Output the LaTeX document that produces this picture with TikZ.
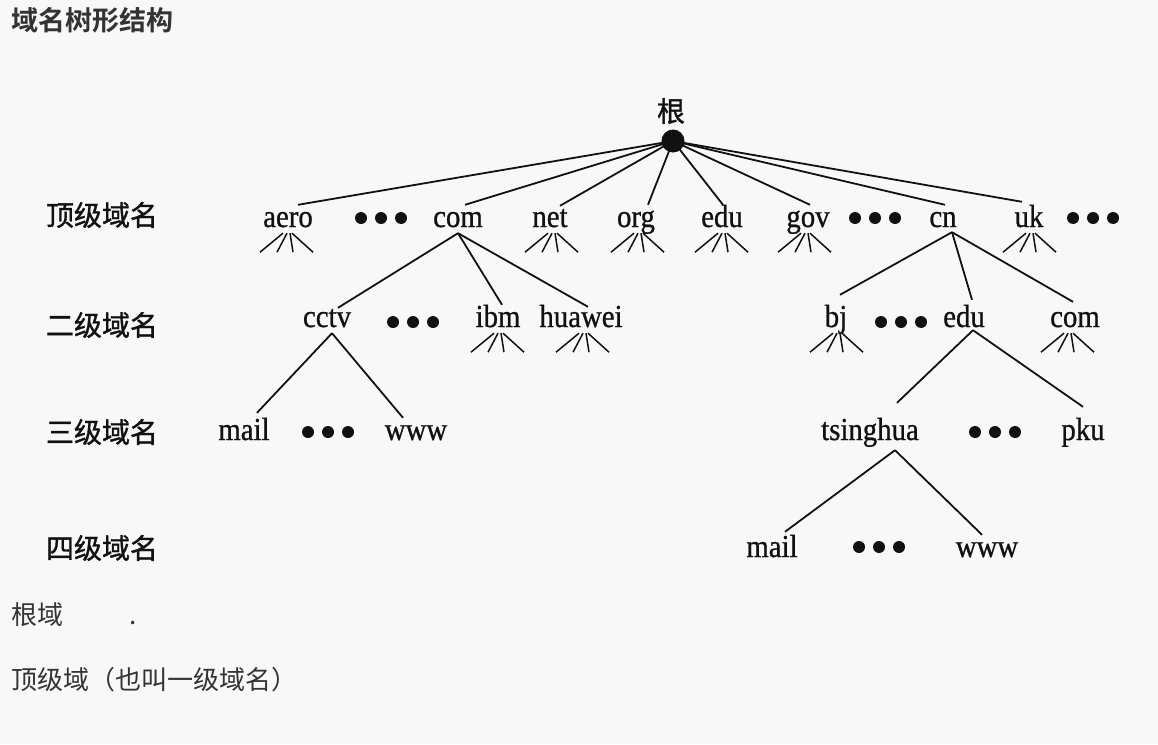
\documentclass[tikz,border=0pt]{standalone}
\usepackage{fontspec}
\newfontfamily\cjk[BoldFont={Noto Sans CJK SC Bold}]{Noto Sans CJK SC}
\newfontfamily\cjkrow[FakeBold=1.2]{Noto Sans CJK SC}
\newfontfamily\treefont[FakeStretch=0.9,FakeBold=0.8]{Liberation Serif}
\definecolor{bgc}{HTML}{F8F8F8}
\definecolor{txt}{HTML}{333333}
\definecolor{ink}{HTML}{111111}
\begin{document}
\begin{tikzpicture}[x=1pt,y=-1pt,
  lbl/.style={font=\treefont\fontsize{32}{36}\selectfont, inner sep=0pt, text height=22pt, text depth=6pt, anchor=base, text=ink},
  rowlbl/.style={font=\cjkrow\fontsize{28}{30}\selectfont, inner sep=0pt, anchor=center, text=ink},
  note/.style={font=\cjk\fontsize{26}{28}\selectfont, inner sep=0pt, anchor=west, text=txt},
  edge/.style={draw=ink, line width=1.8pt},
  ell/.pic={\foreach \i in {-20,0,20} \fill[ink] (\i,0) circle (6);},
  fan/.pic={\draw[edge, line width=1.5pt] (-4,0)--(-27,19) (0,0)--(-10,19) (3,0)--(6,19) (5,0)--(26,19);}
]
\fill[bgc] (0,0) rectangle (1158,744);
\useasboundingbox (0,0) rectangle (1158,744);

% title and notes
\node[note, font=\cjk\bfseries\fontsize{27}{29}\selectfont] (title) at (11,20) {域名树形结构};
\node[note] (n1) at (11,615) {根域};
\node[note, anchor=base] (n1dot) at (133,624) {.};
\node[note] (n2) at (11,680) {顶级域（也叫一级域名）};

% row labels
\node[rowlbl] (r1) at (102,215) {顶级域名};
\node[rowlbl] (r2) at (102,325) {二级域名};
\node[rowlbl] (r3) at (102,432) {三级域名};
\node[rowlbl] (r4) at (102,548) {四级域名};

% root
\node[circle, fill=ink, inner sep=0pt, minimum size=23pt] (root) at (673,141) {};
\node[rowlbl] (rootlbl) at (671,111) {根};

% level 1
\node[lbl] (aero) at (288,227) {aero};
\pic at (381,218) {ell};
\node[lbl] (com) at (458,227) {com};
\node[lbl] (net) at (550,227) {net};
\node[lbl] (org) at (636,227) {org};
\node[lbl] (edu) at (722,227) {edu};
\node[lbl] (gov) at (808,227) {gov};
\pic at (875,218) {ell};
\node[lbl] (cn) at (943,227) {cn};
\node[lbl] (uk) at (1029,227) {uk};
\pic at (1093,218) {ell};

\draw[edge] (root.center) -- ([xshift=10pt]aero.north);
\draw[edge] (root.center) -- ([xshift=7pt]com.north);
\draw[edge] (root.center) -- ([xshift=10pt,yshift=-1pt]net.north);
\draw[edge] (root.center) -- ([xshift=12pt]org.north);
\draw[edge] (root.center) -- ([xshift=1pt]edu.north);
\draw[edge] (root.center) -- ([xshift=2pt]gov.north);
\draw[edge] (root.center) -- ([xshift=2pt]cn.north);
\draw[edge] (root.center) -- ([xshift=-7pt,yshift=3pt]uk.north);

\pic at ([xshift=-1pt]aero.south) {fan};
\pic at ([xshift=2pt]net.south) {fan};
\pic at ([xshift=2pt]org.south) {fan};
\pic at (edu.south) {fan};
\pic at ([xshift=-3pt]gov.south) {fan};
\pic at ([xshift=1pt]uk.south) {fan};

% level 2
\node[lbl] (cctv) at (327,327) {cctv};
\pic at (413,322) {ell};
\node[lbl] (ibm) at (498,327) {ibm};
\node[lbl] (huawei) at (581,327) {huawei};
\node[lbl] (bj) at (836,327) {bj};
\pic at (901,322) {ell};
\node[lbl] (edu2) at (964,327) {edu};
\node[lbl] (com2) at (1075,327) {com};

\draw[edge] (com.south) -- ([xshift=11pt,yshift=-3pt]cctv.north);
\draw[edge] (com.south) -- ([xshift=4pt]ibm.north);
\draw[edge] (com.south) -- ([xshift=7pt,yshift=-2pt]huawei.north);
\draw[edge] ([xshift=9pt,yshift=1pt]cn.south) -- ([xshift=4pt,yshift=10pt]bj.north);
\draw[edge] ([xshift=9pt,yshift=1pt]cn.south) -- ([xshift=8pt,yshift=5pt]edu2.north);
\draw[edge] ([xshift=9pt,yshift=1pt]cn.south) -- ([xshift=-2pt,yshift=3pt]com2.north);

\pic at (ibm.south) {fan};
\pic at ([xshift=2pt]huawei.south) {fan};
\pic at ([xshift=1pt]bj.south) {fan};
\pic at ([xshift=-7pt]com2.south) {fan};

% level 3
\node[lbl] (mail) at (244,440) {mail};
\pic at (328,432) {ell};
\node[lbl] (www) at (416,440) {www};
\node[lbl] (tsinghua) at (870,440) {tsinghua};
\pic at (995,432) {ell};
\node[lbl] (pku) at (1083,440) {pku};

\draw[edge] ([xshift=5pt]cctv.south) -- ([xshift=13pt,yshift=5pt]mail.north);
\draw[edge] ([xshift=5pt]cctv.south) -- ([xshift=-13pt]www.north);
\draw[edge] ([xshift=9pt,yshift=3pt]edu2.south) -- ([xshift=27pt,yshift=15pt]tsinghua.north);
\draw[edge] ([xshift=9pt,yshift=3pt]edu2.south) -- ([yshift=11pt]pku.north);

% level 4
\node[lbl] (mail2) at (772,557) {mail};
\pic at (879,547) {ell};
\node[lbl] (www2) at (987,557) {www};

\draw[edge] ([xshift=25pt,yshift=-4pt]tsinghua.south) -- ([xshift=13pt,yshift=3pt]mail2.north);
\draw[edge] ([xshift=25pt,yshift=-4pt]tsinghua.south) -- ([xshift=-5pt]www2.north);
\end{tikzpicture}
\end{document}
